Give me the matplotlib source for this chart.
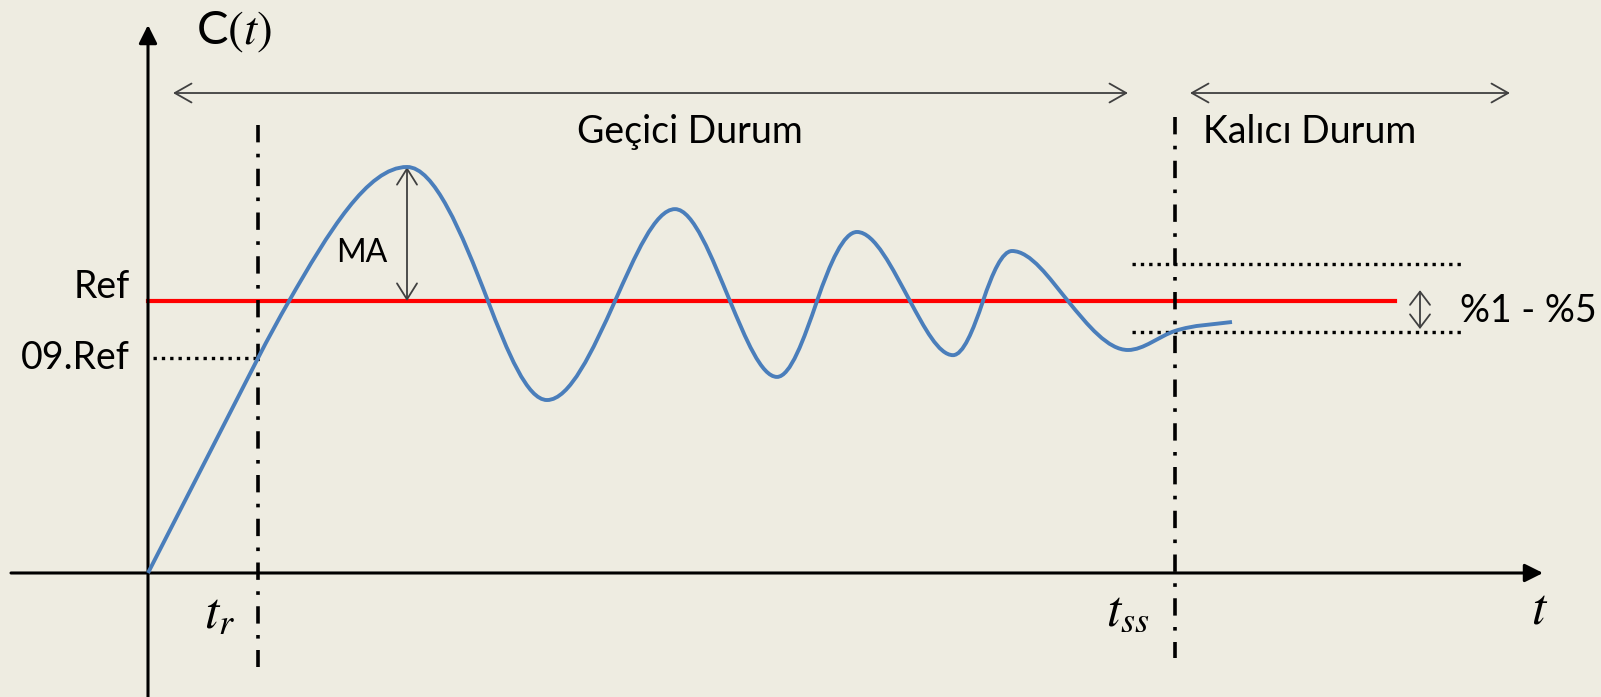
import matplotlib.pyplot as plt
from matplotlib.path import Path
from matplotlib.patches import PathPatch
import numpy as np

# step response: time (arbitrary units), C(t) with Ref = 1,
# and the slope of the curve at each of those points
t_curve = [0.00, 1.10, 1.41, 2.59, 3.40, 3.99, 4.67, 5.27, 5.82, 6.29, 6.69,
           7.09, 7.62, 8.05, 8.35, 8.64, 9.20, 9.80, 10.27, 10.84]
c_curve = [0.000, 0.790, 1.000, 1.493, 1.000, 0.636, 1.000, 1.338, 1.000,
           0.721, 1.000, 1.254, 1.000, 0.801, 1.000, 1.184, 1.000, 0.820,
           0.890, 0.923]
slope_curve = [0.718, 0.718, 0.640, 0.0, -0.96, 0.0, 0.82, 0.0, -0.88, 0.0,
               1.07, 0.0, -0.68, 0.0, 1.10, 0.0, -0.45, 0.0, 0.12, 0.05]

ref_level = 1.0
ref09_level = 0.79
t_rise = 1.10
t_settle = 10.27
band_top = 1.136
band_bottom = 0.886
peak_t = 2.59
peak_c = 1.493

bg = '#EEECE1'
plt.rcParams['font.family'] = ['Lato', 'DejaVu Sans']
plt.rcParams['mathtext.fontset'] = 'stix'
plt.rcParams['lines.scale_dashes'] = False


def smooth_path(xs, ys, ms):
    '''bezier path through every point with the given slopes'''
    verts = [(xs[0], ys[0])]
    codes = [Path.MOVETO]
    for i in range(len(xs) - 1):
        d = (xs[i + 1] - xs[i]) / 3
        verts += [(xs[i] + d, ys[i] + ms[i] * d),
                  (xs[i + 1] - d, ys[i + 1] - ms[i + 1] * d),
                  (xs[i + 1], ys[i + 1])]
        codes += [Path.CURVE4] * 3
    return Path(verts, codes)


def main():
    fig = plt.figure(figsize=(16.01, 6.97), dpi=100, facecolor=bg)
    ax = fig.add_axes([0, 0, 1, 1], facecolor=bg)
    ax.set_xlim(-1.48, 14.53)
    ax.set_ylim(-0.456, 2.107)
    ax.axis('off')

    # axes with filled arrow heads
    axis_arrow = dict(arrowstyle='-|>,head_length=1.1,head_width=0.55',
                      lw=2.2, color='black', shrinkA=0, shrinkB=0)
    ax.annotate('', xy=(13.95, 0), xytext=(-1.37, 0), arrowprops=axis_arrow)
    ax.annotate('', xy=(0, 2.015), xytext=(0, -0.46), arrowprops=axis_arrow)

    # reference
    ax.plot([0, 12.47], [ref_level, ref_level], color='#FF0000', lw=3, zorder=2)

    # dotted guides
    dots = dict(color='black', lw=2.4, dashes=(2.4, 3.6), zorder=3)
    ax.plot([0.05, t_rise], [ref09_level, ref09_level], **dots)
    ax.plot([9.84, 13.14], [band_top, band_top], **dots)
    ax.plot([9.84, 13.14], [band_bottom, band_bottom], **dots)

    # dash-dot markers
    dashdot = dict(color='black', lw=2.6, dashes=(12.5, 8.2, 2.6, 8.2), zorder=3)
    ax.plot([t_rise, t_rise], [1.647, -0.346], **dashdot)
    ax.plot([t_settle, t_settle], [1.676, -0.3125], **dashdot)

    # response
    ax.add_patch(PathPatch(smooth_path(t_curve, c_curve, slope_curve),
                           fill=False, edgecolor='#4A7EBB', lw=2.8, zorder=4))

    # open double arrows
    thin = dict(color='#404040', lw=1.3, shrinkA=0, shrinkB=0)
    ax.annotate('', xy=(0.25, 1.765), xytext=(9.80, 1.765),
                arrowprops=dict(arrowstyle='<->,head_length=1.2,head_width=0.68', **thin))
    ax.annotate('', xy=(10.42, 1.765), xytext=(13.62, 1.765),
                arrowprops=dict(arrowstyle='<->,head_length=1.2,head_width=0.68', **thin))
    ax.annotate('', xy=(peak_t, ref_level), xytext=(peak_t, peak_c),
                arrowprops=dict(arrowstyle='<->,head_length=1.15,head_width=0.72', **thin))
    ax.annotate('', xy=(12.72, 1.040), xytext=(12.72, 0.897),
                arrowprops=dict(arrowstyle='<->,head_length=0.95,head_width=0.72', **thin))

    # labels
    ax.text(0.86, 1.990, r'C$(t)$', fontsize=34, ha='center', va='center')
    ax.text(-0.18, 1.051, 'Ref', fontsize=27, ha='right', va='center')
    ax.text(-0.18, 0.790, '09.Ref', fontsize=27, ha='right', va='center')
    ax.text(2.14, 1.176, 'MA', fontsize=23, ha='center', va='center')
    ax.text(5.42, 1.621, 'Geçici Durum', fontsize=27, ha='center', va='center')
    ax.text(11.62, 1.621, 'Kalıcı Durum', fontsize=27, ha='center', va='center')
    ax.text(13.12, 0.963, '%1 - %5', fontsize=27, ha='left', va='center')
    ax.text(0.72, -0.150, r'$t_r$', fontsize=37, ha='center', va='center')
    ax.text(9.80, -0.145, r'$t_{ss}$', fontsize=37, ha='center', va='center')
    ax.text(13.92, -0.135, r'$t$', fontsize=37, ha='center', va='center')

    fig.savefig('out.png', dpi=100, facecolor=bg)


if __name__ == '__main__':
    main()
